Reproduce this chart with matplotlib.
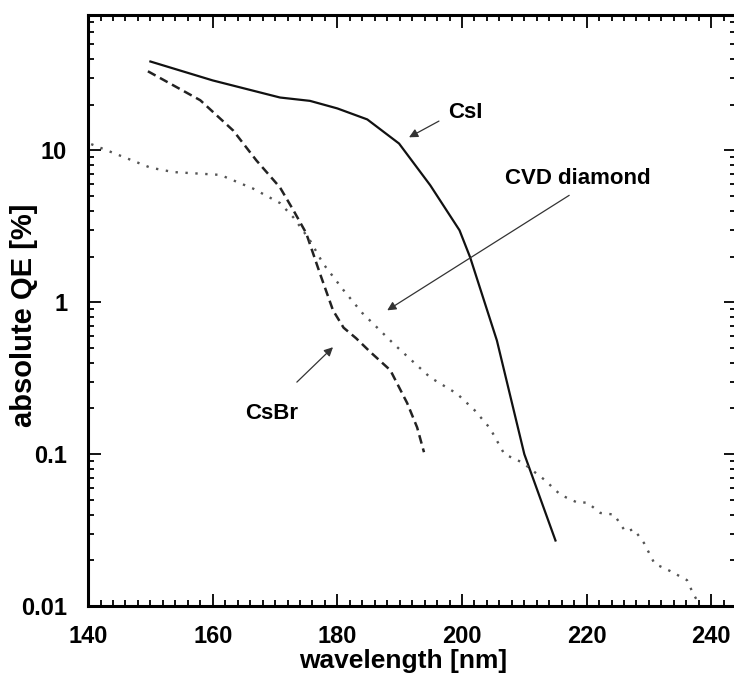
import matplotlib
matplotlib.use("Agg")
import matplotlib.pyplot as plt
from matplotlib.ticker import MultipleLocator, LogLocator, NullFormatter, FixedLocator, FixedFormatter

# CsI photocathode
csi_wl = [150, 160, 170.8, 175.6, 180, 184.8, 189.9, 194.9, 199.6, 201.3, 205.6, 210, 215]
csi_qe = [38.5, 28.9, 22.3, 21.2, 18.9, 16.0, 11.1, 5.9, 2.98, 1.98, 0.56, 0.1, 0.027]

# CsBr photocathode
csbr_wl = [149.6, 158, 163.3, 167, 170.8, 173, 175, 177.2, 179.3, 181, 183, 185.3, 188.5, 191.2, 192.8, 193.9]
csbr_qe = [33.2, 21.4, 13.5, 8.6, 5.7, 4.0, 2.85, 1.55, 0.885, 0.68, 0.58, 0.47, 0.357, 0.217, 0.15, 0.103]

# CVD diamond
cvd_wl = [140.5, 150, 153.7, 161.2, 166.5, 170.8, 173, 175.6, 177.7, 181, 184, 189.3, 194.9, 199.2,
          202, 204.5, 206.8, 209.7, 213.2, 215.8, 218.5, 220.1, 222.2, 224.4, 226.2, 227.6, 229.2,
          230.9, 233.4, 236.1, 237, 238.2]
cvd_qe = [11, 7.7, 7.2, 6.9, 5.6, 4.5, 3.6, 2.56, 1.8, 1.2, 0.85, 0.52, 0.32, 0.25,
          0.195, 0.148, 0.1, 0.088, 0.068, 0.054, 0.048, 0.048, 0.041, 0.040, 0.031, 0.032, 0.026,
          0.019, 0.017, 0.0148, 0.0123, 0.01]

ytick_vals = [0.01, 0.1, 1, 10]
ytick_text = ["0.01", "0.1", "1", "10"]

plt.rcParams['font.family'] = ['Liberation Sans', 'DejaVu Sans']
plt.rcParams['font.weight'] = 'bold'

fig = plt.figure(figsize=(7.34, 6.79), dpi=100)
ax = fig.add_axes([0.12, 0.1075, 0.883, 0.8705])

ax.plot(csi_wl, csi_qe, color='#111111', lw=1.6, ls='-')
ax.plot(csbr_wl, csbr_qe, color='#222222', lw=1.8, ls=(0, (3.5, 2)))
ax.plot(cvd_wl, cvd_qe, color='#555555', lw=1.7, ls=(0, (1, 3.2)))

ax.set_yscale('log')
ax.set_xlim(140, 244)
ax.set_ylim(0.01, 78)

ax.xaxis.set_major_locator(MultipleLocator(20))
ax.xaxis.set_minor_locator(MultipleLocator(2))
ax.yaxis.set_major_locator(FixedLocator(ytick_vals))
ax.yaxis.set_major_formatter(FixedFormatter(ytick_text))
ax.yaxis.set_minor_locator(LogLocator(base=10, subs=range(2, 10)))
ax.yaxis.set_minor_formatter(NullFormatter())

ax.tick_params(which='both', direction='in', top=True, right=True, width=1.3, colors='black')
ax.tick_params(which='major', length=9, labelsize=17)
ax.tick_params(which='minor', length=4.5)
ax.tick_params(axis='x', which='major', pad=14)
ax.tick_params(axis='y', which='major', pad=15)
for lab in ax.get_xticklabels() + ax.get_yticklabels():
    lab.set_fontweight('bold')

for s in ax.spines.values():
    s.set_linewidth(2.2)

# axis titles placed by hand, as in the original figure
ax.set_xlabel("wavelength [nm]", fontsize=19, fontweight='bold', va='baseline')
ax.xaxis.set_label_coords(0.486, -0.105)
ax.set_ylabel("absolute QE [%]", fontsize=21, fontweight='bold')
ax.yaxis.set_label_coords(-0.077, 0.492)

arrow = dict(arrowstyle='-|>', color='#333333', lw=0.9, mutation_scale=13, shrinkA=0, shrinkB=0)
ax.annotate("", xy=(191.5, 12.2), xytext=(196.3, 15.6), arrowprops=arrow)
ax.annotate("", xy=(188, 0.885), xytext=(217.2, 5.06), arrowprops=arrow)
ax.annotate("", xy=(179.3, 0.506), xytext=(173.5, 0.298), arrowprops=arrow)
ax.text(197.8, 17.8, "CsI", fontsize=16, fontweight='bold', ha='left', va='center')
ax.text(206.9, 6.55, "CVD diamond", fontsize=16, fontweight='bold', ha='left', va='center')
ax.text(165.2, 0.186, "CsBr", fontsize=16, fontweight='bold', ha='left', va='center')

fig.savefig("out.png", dpi=100)
